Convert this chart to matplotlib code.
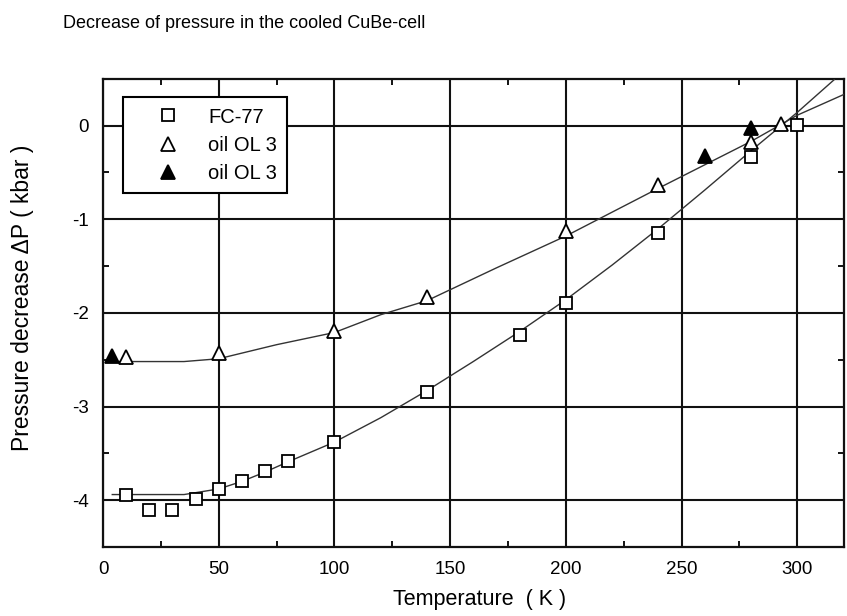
import numpy as np
import matplotlib.pyplot as plt
from matplotlib.ticker import MultipleLocator

plt.rcParams['font.family'] = ['Liberation Sans', 'DejaVu Sans']
plt.rcParams['axes.unicode_minus'] = False

# measured points
t_fc77 = [10, 20, 30, 40, 50, 60, 70, 80, 100, 140, 180, 200, 240, 280, 300]
p_fc77 = [-3.94, -4.10, -4.10, -3.99, -3.88, -3.80, -3.69, -3.58, -3.38,
          -2.84, -2.24, -1.89, -1.145, -0.34, 0.01]

t_oil_open = [10, 50, 100, 140, 200, 240, 280, 293]
p_oil_open = [-2.47, -2.43, -2.19, -1.83, -1.13, -0.63, -0.18, 0.02]

t_oil_fill = [4, 260, 280]
p_oil_fill = [-2.46, -0.33, -0.03]

# smoothed fit curves
t_fit_fc77 = [4, 35, 50, 60, 70, 80, 100, 120, 140, 160, 180, 200, 220, 240,
              260, 280, 300, 316]
p_fit_fc77 = [-3.94, -3.94, -3.88, -3.80, -3.70, -3.59, -3.38, -3.12, -2.83,
              -2.52, -2.20, -1.86, -1.49, -1.10, -0.69, -0.27, 0.14, 0.49]

t_fit_oil = [4, 35, 50, 75, 100, 120, 140, 170, 200, 240, 280, 300, 320]
p_fit_oil = [-2.52, -2.52, -2.49, -2.34, -2.21, -2.02, -1.87, -1.52, -1.18,
             -0.67, -0.17, 0.11, 0.33]

fig = plt.figure(figsize=(8.47, 6.16), dpi=100)
ax = fig.add_axes([103 / 847, 1 - 547 / 616, 740.5 / 847, 468.3 / 616])

ax.plot(t_fit_fc77, p_fit_fc77, color='#333333', lw=1.0, zorder=3)
ax.plot(t_fit_oil, p_fit_oil, color='#333333', lw=1.0, zorder=3)

ax.plot(t_fc77, p_fc77, ls='none', marker='s', ms=9, mfc='white', mec='black',
        mew=1.3, label='FC-77', zorder=4)
ax.plot(t_oil_open, p_oil_open, ls='none', marker='^', ms=10.5, mfc='white',
        mec='black', mew=1.3, label='oil OL 3', zorder=4)
ax.plot(t_oil_fill, p_oil_fill, ls='none', marker='^', ms=10.5, mfc='black',
        mec='black', mew=1.3, label='oil OL 3', zorder=5)

ax.set_xlim(0, 320)
ax.set_ylim(-4.5, 0.5)
ax.xaxis.set_major_locator(MultipleLocator(50))
ax.xaxis.set_minor_locator(MultipleLocator(25))
ax.yaxis.set_major_locator(MultipleLocator(1))
ax.yaxis.set_minor_locator(MultipleLocator(0.5))
ax.grid(which='major', color='#111111', lw=1.5)
ax.tick_params(which='both', direction='in', top=True, right=True,
               labelsize=13.5, color='black')
ax.tick_params(which='major', length=0, pad=10)
ax.tick_params(which='minor', length=4, width=1.3)
for s in ax.spines.values():
    s.set_linewidth(1.6)
    s.set_color('#111111')

ax.set_xlabel('Temperature  ( K )', fontsize=15.5, va='center')
ax.xaxis.set_label_coords(0.508, -0.113)
ax.set_ylabel('Pressure decrease \u0394P ( kbar )', fontsize=16.5, va='center')
ax.yaxis.set_label_coords(-0.109, 0.532)

fig.suptitle('Decrease of pressure in the cooled CuBe-cell', x=63 / 847,
             y=1 - 23 / 616, ha='left', va='center', fontsize=13)

leg = ax.legend(loc='upper left', bbox_to_anchor=(0.0266, 0.960), fontsize=14.5,
                frameon=True, fancybox=False, framealpha=1, edgecolor='black',
                borderpad=0.5, labelspacing=0.45, handlelength=3.5,
                handletextpad=0.25, borderaxespad=0)
leg.get_frame().set_linewidth(1.5)
leg.set_zorder(6)

fig.savefig('out.png', dpi=100)
